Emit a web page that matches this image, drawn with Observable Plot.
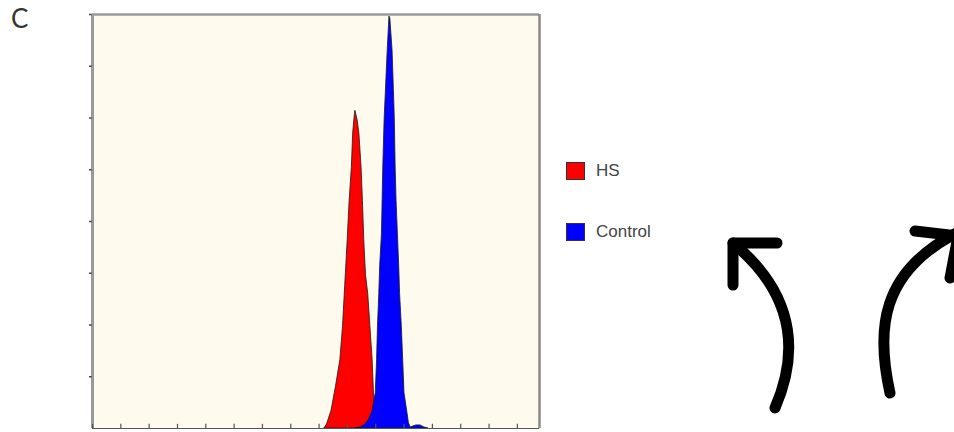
<!DOCTYPE html>
<html><head><meta charset="utf-8">
<script src="https://cdn.jsdelivr.net/npm/d3@7"></script>
<script src="https://cdn.jsdelivr.net/npm/@observablehq/plot@0.6"></script>
<style>
body{margin:0;background:#fff;}
#wrap{position:relative;width:954px;height:432px;overflow:hidden;background:#fff;}
#wrap svg.plot{position:absolute;left:0;top:0;}
#panel{position:absolute;left:11px;top:2px;font-family:"Lato","Open Sans",sans-serif;font-size:26px;color:#333;font-weight:400;}
.leg{position:absolute;left:566px;font-family:"Liberation Sans",Arial,sans-serif;font-size:17px;color:#444;display:flex;align-items:center;}
.leg .sw{width:17px;height:16px;border:1.5px solid #333;margin-right:11px;box-sizing:content-box;}
#arrows{position:absolute;left:0;top:0;}
</style></head><body><div id="wrap"></div><script>
// Series: HS (red) — channel positions and event counts
const hsChannel = [524,530,540,550,560,566,571,576,581,586,589,592,594,599,603,608,611,614,618,623,628,633,636,639,644,652,662];
const hsCount   = [0,4,17,40,66,98,138,177,220,252,285,300,307,298,285,252,220,182,148,130,98,66,34,17,6,2,0];
// Series: Control (blue)
const ctrlChannel = [594,606,617,624,633,640,643,645,648,650,654,657,660,662,667,671,673,678,681,683,685,687,690,693,695,699,702,705,711,715,719,725,732,741,750,759];
const ctrlCount   = [0,1,4,8,17,34,66,98,130,157,188,252,298,317,365,398,396,365,327,300,252,220,188,157,130,98,66,34,17,5,1,2,3,3,1,0];
const seriesNames  = ["HS","Control"];
const seriesColors = ["#ff0000","#0000ff"];
const xTicks = d3.range(0, 1010, 64);
const yTicks = d3.range(50, 401, 50);

const hs   = hsChannel.map((c,i)=>({ch:c, n:hsCount[i]}));
const ctrl = ctrlChannel.map((c,i)=>({ch:c, n:ctrlCount[i]}));

const wrap = document.getElementById("wrap");
const plot = Plot.plot({
  width: 954, height: 432,
  marginLeft: 92, marginRight: 415, marginTop: 14, marginBottom: 4,
  style: {background: "transparent"},
  x: {domain: [0, 1010], axis: null},
  y: {domain: [0, 400], axis: null},
  marks: [
    Plot.frame({fill: "#fffaee", stroke: null}),
    Plot.areaY(hs,   {x: "ch", y: "n", fill: seriesColors[0], stroke: "#1a1a1a", strokeWidth: 0.8}),
    Plot.areaY(ctrl, {x: "ch", y: "n", fill: seriesColors[1], stroke: "#1a1a1a", strokeWidth: 0.8}),
    Plot.ruleY([400], {stroke: "#9a9a9a", strokeWidth: 2.5}),
    Plot.ruleX([1010], {stroke: "#8a8a8a", strokeWidth: 2.5}),
    Plot.ruleX([0], {stroke: "#999", strokeWidth: 3}),
    Plot.ruleY([0], {stroke: "#555", strokeWidth: 1.2}),
    Plot.ruleX(xTicks, {x: d => d, y1: 0, y2: 4, stroke: "#555", strokeWidth: 1.2}),
    Plot.ruleY(yTicks, {y: d => d, x1: 0, x2: 6, dx: -3, stroke: "#444", strokeWidth: 1.5})
  ]
});
wrap.appendChild(plot);

const p = document.createElement("div");
p.id = "panel"; p.textContent = "C";
wrap.appendChild(p);

const legTops = [161, 222];
seriesNames.forEach((name, i) => {
  const d = document.createElement("div");
  d.className = "leg";
  d.style.top = legTops[i] + "px";
  const sw = document.createElement("span");
  sw.className = "sw"; sw.style.background = seriesColors[i];
  const t = document.createElement("span");
  t.textContent = name;
  d.appendChild(sw); d.appendChild(t);
  wrap.appendChild(d);
});

const ns = "http://www.w3.org/2000/svg";
const svg = document.createElementNS(ns, "svg");
svg.setAttribute("id", "arrows");
svg.setAttribute("width", 954); svg.setAttribute("height", 432);
const paths = [
  "M775,408 C795,362 802,300 733,243",
  "M777,243 L733,243 L733,285",
  "M890,393 C876,330 880,272 958,232",
  "M915,231 L958,236 L950,278"
];
paths.forEach(dd => {
  const pa = document.createElementNS(ns, "path");
  pa.setAttribute("d", dd);
  pa.setAttribute("fill", "none");
  pa.setAttribute("stroke", "#000");
  pa.setAttribute("stroke-width", 11);
  pa.setAttribute("stroke-linecap", "round");
  pa.setAttribute("stroke-linejoin", "round");
  svg.appendChild(pa);
});
wrap.appendChild(svg);
</script></body></html>
